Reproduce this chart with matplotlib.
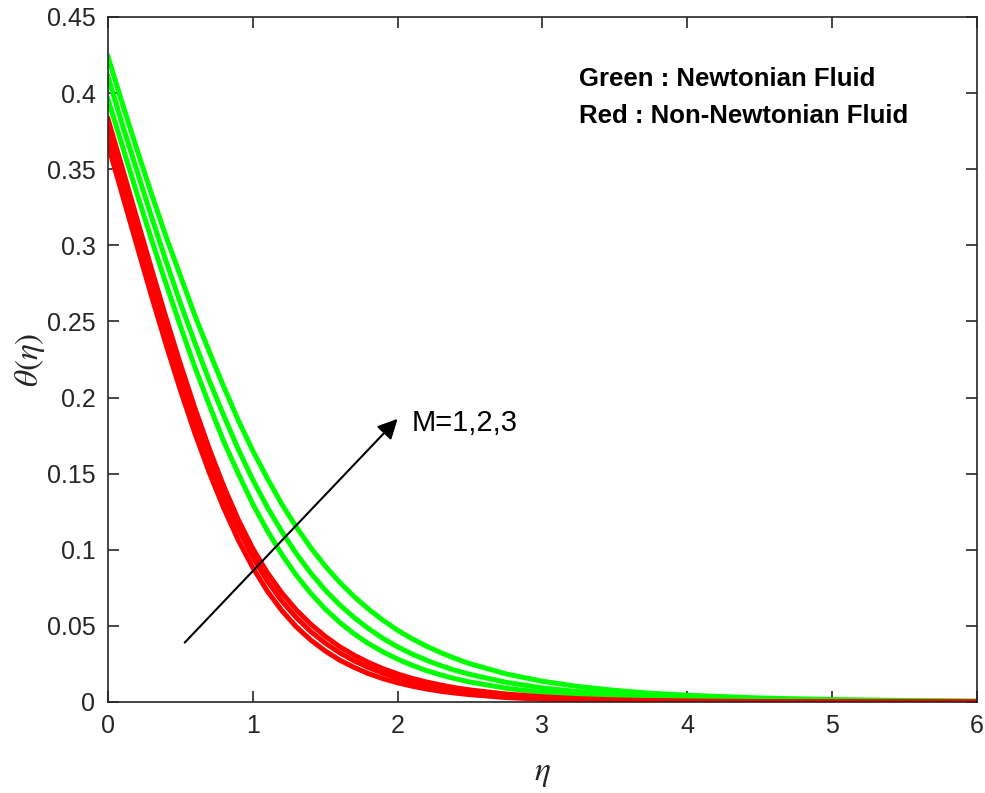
import numpy as np
import matplotlib
matplotlib.use("Agg")
import matplotlib.pyplot as plt

plt.rcParams['font.family'] = ['Liberation Sans', 'DejaVu Sans']
plt.rcParams['mathtext.fontset'] = 'stix'

# eta grid and temperature profiles
eta = [0.0, 0.1, 0.2, 0.3, 0.4, 0.5, 0.6, 0.7, 0.8, 0.9,
       1.0, 1.1, 1.2, 1.3, 1.4, 1.5, 1.6, 1.7, 1.8, 1.9,
       2.0, 2.1, 2.2, 2.3, 2.4, 2.5, 2.75, 3.0, 3.25, 3.5,
       3.75, 4.0, 4.5, 5.0, 5.5, 6.0]

# Newtonian fluid (green), M = 1, 2, 3
green_m1 = [0.396, 0.365, 0.334, 0.304, 0.275, 0.247, 0.220, 0.195, 0.171, 0.150,
            0.130, 0.1126, 0.0970, 0.0833, 0.0714, 0.0611, 0.0523, 0.0447, 0.0383, 0.0328,
            0.0281, 0.0241, 0.0206, 0.0177, 0.0152, 0.0131, 0.0090, 0.0062, 0.0043, 0.0030,
            0.0022, 0.0016, 0.00084, 0.00046, 0.00025, 0.00014]
green_m2 = [0.411, 0.379, 0.349, 0.319, 0.290, 0.262, 0.236, 0.211, 0.188, 0.166,
            0.146, 0.128, 0.112, 0.0975, 0.0847, 0.0735, 0.0638, 0.0554, 0.0481, 0.0417,
            0.0362, 0.0315, 0.0274, 0.0238, 0.0207, 0.0181, 0.0129, 0.0092, 0.0067, 0.0049,
            0.0036, 0.0026, 0.0015, 0.00085, 0.0005, 0.0003]
green_m3 = [0.424, 0.393, 0.363, 0.334, 0.306, 0.280, 0.254, 0.230, 0.207, 0.185,
            0.165, 0.147, 0.130, 0.115, 0.1014, 0.0893, 0.0786, 0.0692, 0.0609, 0.0536,
            0.0471, 0.0415, 0.0366, 0.0323, 0.0285, 0.0251, 0.0184, 0.0136, 0.0101, 0.0076,
            0.0057, 0.0044, 0.0026, 0.0016, 0.00096, 0.00058]

# Non-Newtonian fluid (red), M = 1, 2, 3
red_m1 = [0.366, 0.333, 0.2998, 0.2669, 0.2351, 0.2049, 0.1766, 0.1506, 0.1272, 0.1063,
          0.0883, 0.0729, 0.0601, 0.0494, 0.0407, 0.0335, 0.0275, 0.0227, 0.0186, 0.0153,
          0.0126, 0.0104, 0.0085, 0.0070, 0.0058, 0.0048, 0.0029, 0.0018, 0.0011, 0.0007,
          0.0004, 0.0003, 0.0001, 0.0, 0.0, 0.0]
red_m2 = [0.375, 0.3423, 0.3092, 0.2763, 0.2444, 0.2139, 0.1853, 0.1588, 0.1348, 0.1135,
          0.0951, 0.0795, 0.0664, 0.0555, 0.0463, 0.0387, 0.0323, 0.0270, 0.0226, 0.0188,
          0.0157, 0.0131, 0.0109, 0.0091, 0.0076, 0.0064, 0.0041, 0.0026, 0.0016, 0.0010,
          0.0007, 0.0004, 0.0002, 0.0001, 0.0, 0.0]
red_m3 = [0.383, 0.3505, 0.3175, 0.2847, 0.2527, 0.2220, 0.1931, 0.1662, 0.1416, 0.1197,
          0.1008, 0.0850, 0.0717, 0.0605, 0.0511, 0.0431, 0.0363, 0.0307, 0.0259, 0.0218,
          0.0184, 0.0155, 0.0131, 0.0111, 0.0093, 0.0079, 0.0052, 0.0034, 0.0022, 0.0014,
          0.0009, 0.0006, 0.0003, 0.0001, 0.0, 0.0]

fig = plt.figure(figsize=(9.85, 7.93), dpi=100)
ax = fig.add_axes([0.1096, 0.1148, 0.8822, 0.8638])

for g in (green_m1, green_m2, green_m3):
    ax.plot(eta, g, color=(0, 1, 0), lw=3.6, solid_joinstyle='round')
for r in (red_m1, red_m2, red_m3):
    ax.plot(eta, r, color=(1, 0, 0), lw=3.6, solid_joinstyle='round')

ax.set_xlim(0, 6)
ax.set_ylim(0, 0.45)
ax.set_xticks(range(0, 7))
ax.set_yticks(np.arange(0, 0.451, 0.05))
ax.set_yticklabels(['0', '0.05', '0.1', '0.15', '0.2', '0.25', '0.3',
                    '0.35', '0.4', '0.45'])
ax.tick_params(direction='in', length=8, width=1.2, labelsize=18,
               top=True, right=True, colors='#262626', pad=9)
for sp in ax.spines.values():
    sp.set_linewidth(1.2)
    sp.set_color('#262626')

ax.set_xlabel(r'$\eta$', fontsize=24, color='#262626', labelpad=14)
ax.set_ylabel(r'$\theta(\eta)$', fontsize=24, color='#262626', labelpad=0)

ax.annotate('', xy=(2.0, 0.186), xytext=(0.53, 0.039),
            arrowprops=dict(arrowstyle='-|>', color='black', lw=1.5,
                            mutation_scale=30, shrinkA=0, shrinkB=0))
ax.text(2.1, 0.183, 'M=1,2,3', fontsize=21, va='center', ha='left')

ax.text(3.25, 0.409, 'Green : Newtonian Fluid', fontsize=18.5,
        fontweight='bold', va='center', ha='left')
ax.text(3.25, 0.385, 'Red : Non-Newtonian Fluid', fontsize=18.5,
        fontweight='bold', va='center', ha='left')

plt.savefig('out.png', dpi=100)
